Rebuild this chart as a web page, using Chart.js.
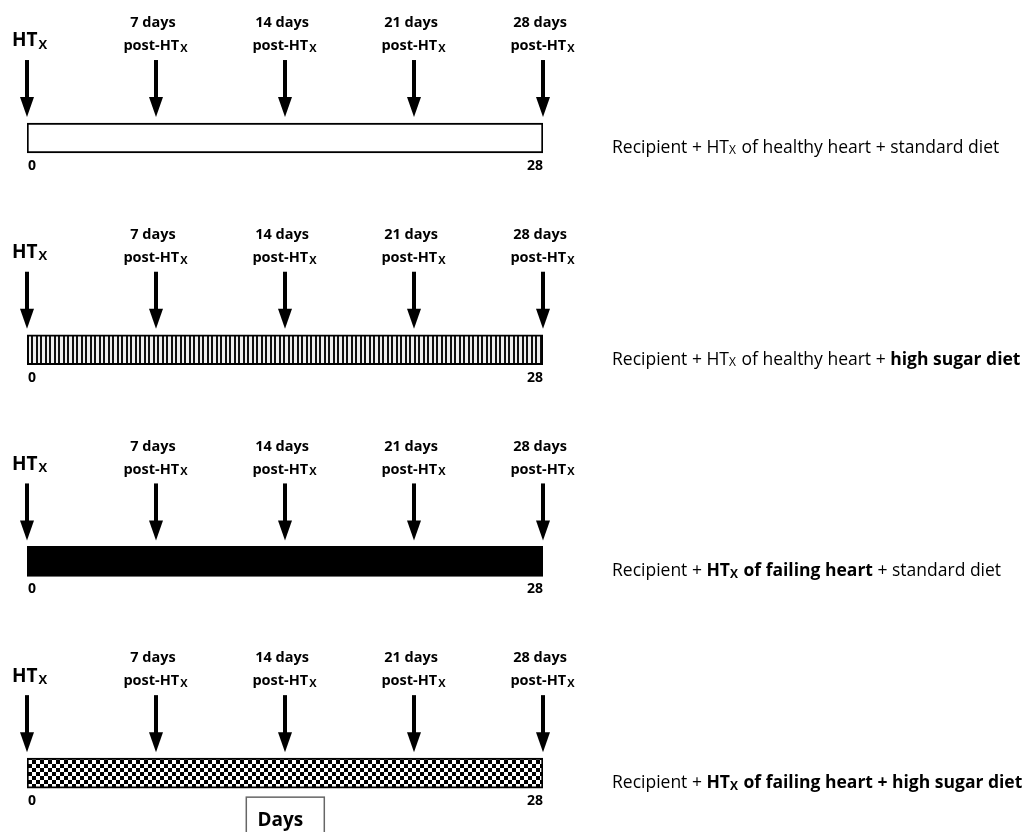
<!DOCTYPE html>
<html>
<head>
<meta charset="utf-8">
<script src="https://cdn.jsdelivr.net/npm/chart.js@4.4.1/dist/chart.umd.min.js"></script>
<style>
  html, body { margin: 0; padding: 0; background: #fff; }
  #wrap { width: 1023px; height: 832px; }
</style>
</head>
<body>
<div id="wrap"><canvas id="timeline" width="1023" height="832"></canvas></div>
<script>
// ---- data ----
const groupRows = [0, 1, 2, 3];
const startDay = [0, 0, 0, 0];
const endDay = [28, 28, 28, 28];
const groupFills = ['plain', 'stripes', 'solid', 'checker'];
const timepoints = [0, 7, 14, 21, 28];
const timepointTop = ['', '7 days', '14 days', '21 days', '28 days'];
const timepointBottom = ['HT', 'post-HT', 'post-HT', 'post-HT', 'post-HT'];
const dayTicks = [0, 28];
const axisTitle = 'Days';
// label pieces: [text, bold, subscript]
const groupLabels = [
    [['Recipient + HT', 0], ['X', 0, 1], [' of healthy heart + standard diet', 0]],
    [['Recipient + HT', 0], ['X', 0, 1], [' of healthy heart + ', 0], ['high sugar diet', 1]],
    [['Recipient + ', 0], ['HT', 1], ['X', 1, 1], [' of failing heart', 1], [' + standard diet', 0]],
    [['Recipient + ', 0], ['HT', 1], ['X', 1, 1], [' of failing heart + high sugar diet', 1]]
];

const FONT = "'Open Sans', Lato, sans-serif";

// ---- fill patterns ----
function makePattern(kind) {
    if (kind === 'plain') return '#ffffff';
    if (kind === 'solid') return '#000000';
    const c = document.createElement('canvas');
    const g = c.getContext('2d');
    if (kind === 'stripes') {
        c.width = 9; c.height = 4;
        g.fillStyle = '#f0f0f0'; g.fillRect(0, 0, 9, 4);
        g.fillStyle = '#111'; g.fillRect(0, 0, 2, 4); g.fillRect(4, 0, 2, 4);
    } else {
        c.width = 8; c.height = 8;
        g.fillStyle = '#fff'; g.fillRect(0, 0, 8, 8);
        g.fillStyle = '#000'; g.fillRect(0, 0, 4, 4); g.fillRect(4, 4, 4, 4);
    }
    return g.createPattern(c, 'repeat');
}

// draws text with a small subscript X after it
function drawWithSub(ctx, text, x, y, size, subSize, align) {
    ctx.font = `bold ${size}px ${FONT}`;
    const w1 = ctx.measureText(text).width;
    ctx.font = `bold ${subSize}px ${FONT}`;
    const w2 = ctx.measureText('X').width;
    const left = align === 'center' ? x - (w1 + w2) / 2 : x;
    ctx.textAlign = 'left';
    ctx.font = `bold ${size}px ${FONT}`;
    ctx.fillText(text, left, y);
    ctx.font = `bold ${subSize}px ${FONT}`;
    ctx.fillText('X', left + w1 + 1, y + size * 0.2);
}

const timelinePlugin = {
    id: 'timelineDecor',
    afterDatasetsDraw(chart) {
        const ctx = chart.ctx;
        const xs = chart.scales.x, ys = chart.scales.y;
        const half = 15;
        ctx.save();
        ctx.fillStyle = '#000';
        ctx.textBaseline = 'middle';
        groupRows.forEach((row, gi) => {
            const cy = ys.getPixelForValue(row);
            const top = cy - half;
            // arrows + timepoint labels
            timepoints.forEach((d, i) => {
                const px = xs.getPixelForValue(d);
                ctx.fillRect(px - 2, top - 63, 4, 39);
                ctx.beginPath();
                ctx.moveTo(px - 7, top - 26);
                ctx.lineTo(px + 7, top - 26);
                ctx.lineTo(px, top - 6);
                ctx.closePath();
                ctx.fill();
                if (i === 0) {
                    drawWithSub(ctx, timepointBottom[i], px - 15, top - 82, 19, 13, 'left');
                } else {
                    ctx.textAlign = 'center';
                    ctx.font = `bold 14.5px ${FONT}`;
                    ctx.fillText(timepointTop[i], px - 3, top - 100);
                    drawWithSub(ctx, timepointBottom[i], px - 1, top - 77, 14.5, 11, 'center');
                }
            });
            // day ticks under the bar
            ctx.font = `bold 14px ${FONT}`;
            dayTicks.forEach((d, i) => {
                ctx.textAlign = i === 0 ? 'left' : 'right';
                ctx.fillText(String(d), xs.getPixelForValue(d) + (i === 0 ? 1 : 0), cy + half + 13);
            });
            // group label on the right
            let lx = 612;
            const ly = cy + 10;
            ctx.textAlign = 'left';
            groupLabels[gi].forEach(([t, b, sub]) => {
                const size = sub ? 12 : 17.5;
                ctx.font = `${b ? 'bold ' : ''}${size}px ${FONT}`;
                ctx.fillText(t, lx, sub ? ly + 3 : ly);
                lx += ctx.measureText(t).width + (sub ? 1 : 0);
            });
        });
        // "Days" box
        const bx = xs.getPixelForValue(11.9);
        const by = ys.getPixelForValue(3) + half + 9;
        ctx.strokeStyle = '#666';
        ctx.lineWidth = 1.5;
        ctx.strokeRect(bx, by, 78, 50);
        ctx.textAlign = 'center';
        ctx.font = `bold 19px ${FONT}`;
        ctx.fillText(axisTitle, bx + 34, by + 23);
        ctx.restore();
    }
};

new Chart(document.getElementById('timeline'), {
    type: 'bar',
    data: {
        datasets: [{
            data: groupRows.map((r, i) => ({ x: [startDay[i], endDay[i]], y: r })),
            backgroundColor: groupFills.map(makePattern),
            borderColor: '#000',
            borderWidth: 2,
            borderSkipped: false,
            barThickness: 30,
        }]
    },
    options: {
        indexAxis: 'y',
        responsive: false,
        animation: false,
        layout: { padding: { left: 27, right: 480, top: 0, bottom: 0 } },
        plugins: { legend: { display: false }, tooltip: { enabled: false } },
        scales: {
            x: { type: 'linear', min: 0, max: 28, display: false, offset: false },
            y: { type: 'linear', min: -0.652, max: 3.278, reverse: true, display: false, offset: false }
        }
    },
    plugins: [timelinePlugin]
});
</script>
</body>
</html>
